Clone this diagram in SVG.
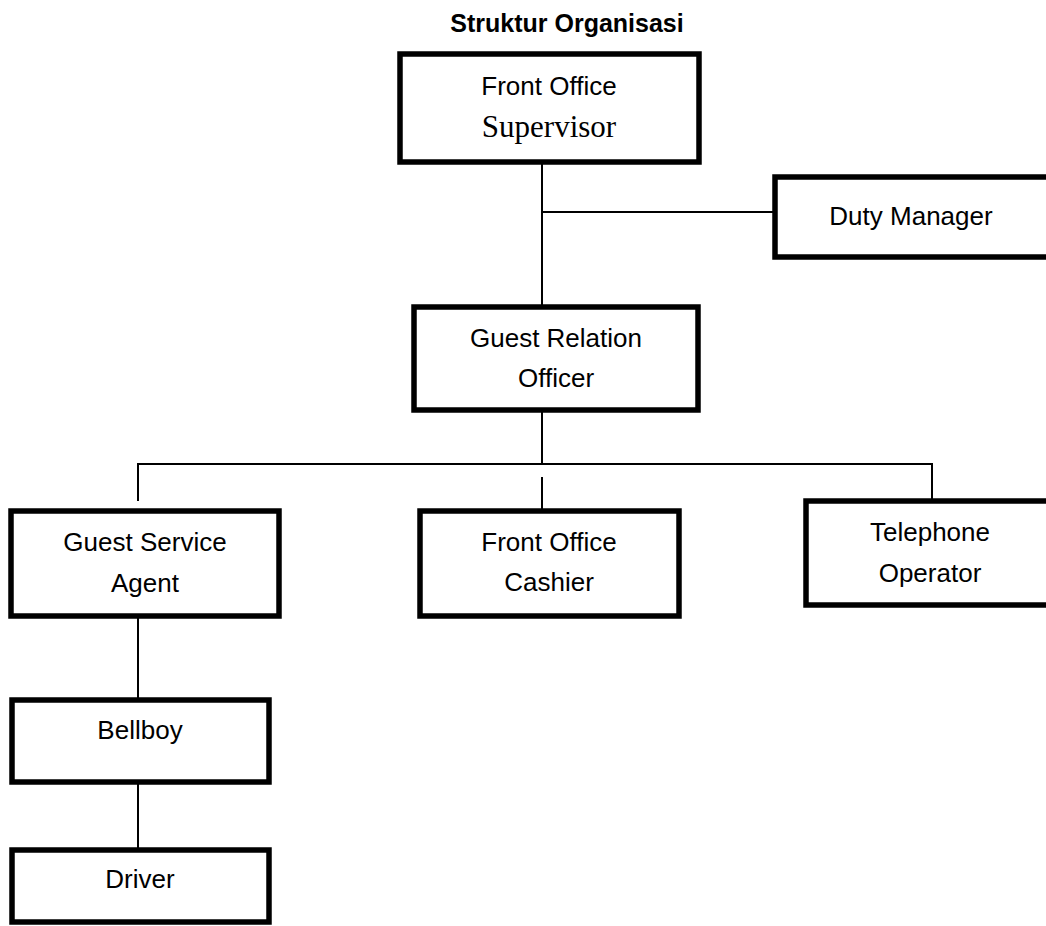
<svg xmlns="http://www.w3.org/2000/svg" width="1046" height="926" viewBox="0 0 1046 926">
<style>
.box{fill:#fff;stroke:#000;stroke-width:5.5}
.lbl{font-family:"Liberation Sans",Arial,sans-serif;font-size:26px;fill:#000;text-anchor:middle}
.serif{font-family:"Liberation Serif","Times New Roman",serif;font-size:31px}
.title{font-family:"Liberation Sans",Arial,sans-serif;font-size:25px;font-weight:bold;fill:#000;text-anchor:middle}
.conn{fill:none;stroke:#000;stroke-width:2}
</style>
<rect width="1046" height="926" fill="#fff"/>
<text class="title" x="567" y="32">Struktur Organisasi</text>
<g id="connectors">
<line class="conn" x1="542" y1="162" x2="542" y2="307"/>
<line class="conn" x1="542" y1="212" x2="775" y2="212"/>
<line class="conn" x1="542" y1="410" x2="542" y2="464"/>
<polyline class="conn" points="138,501 138,464 932,464 932,501"/>
<line class="conn" x1="542" y1="477" x2="542" y2="511"/>
<line class="conn" x1="138" y1="616" x2="138" y2="700"/>
<line class="conn" x1="138" y1="782" x2="138" y2="850"/>
</g>
<g id="front-office-supervisor">
<rect class="box" x="400" y="54" width="299" height="108"/>
<text class="lbl" x="549" y="95">Front Office</text>
<text class="lbl serif" x="549" y="137">Supervisor</text>
</g>
<g id="duty-manager">
<rect class="box" x="775" y="177" width="290" height="80"/>
<text class="lbl" x="911" y="225">Duty Manager</text>
</g>
<g id="guest-relation-officer">
<rect class="box" x="414" y="307" width="284" height="103"/>
<text class="lbl" x="556" y="347">Guest Relation</text>
<text class="lbl" x="556" y="387">Officer</text>
</g>
<g id="guest-service-agent">
<rect class="box" x="11" y="511" width="268" height="105"/>
<text class="lbl" x="145" y="551">Guest Service</text>
<text class="lbl" x="145" y="592">Agent</text>
</g>
<g id="front-office-cashier">
<rect class="box" x="420" y="511" width="259" height="105"/>
<text class="lbl" x="549" y="551">Front Office</text>
<text class="lbl" x="549" y="591">Cashier</text>
</g>
<g id="telephone-operator">
<rect class="box" x="806" y="501" width="260" height="104"/>
<text class="lbl" x="930" y="541">Telephone</text>
<text class="lbl" x="930" y="582">Operator</text>
</g>
<g id="bellboy">
<rect class="box" x="12" y="700" width="257" height="82"/>
<text class="lbl" x="140" y="739">Bellboy</text>
</g>
<g id="driver">
<rect class="box" x="12" y="850" width="257" height="72"/>
<text class="lbl" x="140" y="888">Driver</text>
</g>
</svg>
